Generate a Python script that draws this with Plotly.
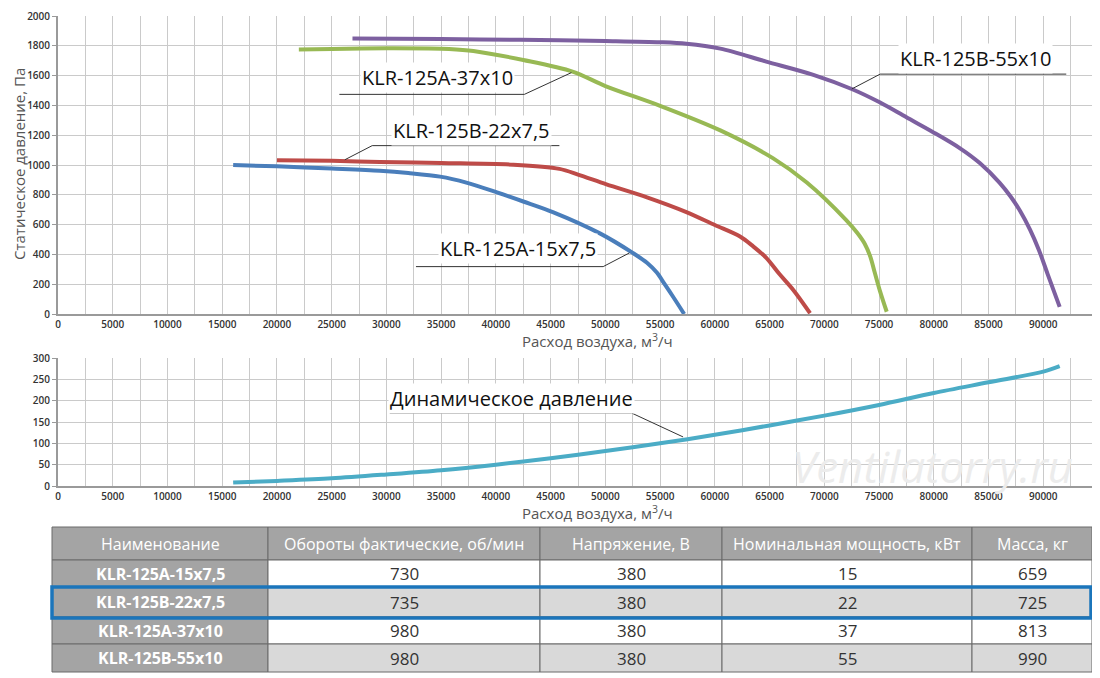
import plotly.graph_objects as go

# Static pressure curves (flow m3/h, pressure Pa)
a15_x = [16000, 20000, 25000, 29400, 32000, 34900, 37300, 40100, 42500, 45200, 49500, 52500, 53800, 54700, 55400, 56200, 57200]
a15_y = [1000, 991, 976, 961, 946, 922, 882, 816, 755, 684, 541, 410, 344, 278, 202, 114, 0]

b22_x = [20000, 25000, 29400, 35000, 41600, 45800, 47500, 50100, 53800, 57400, 60000, 62300, 63500, 64700, 65900, 67200, 68700]
b22_y = [1032, 1028, 1020, 1013, 1002, 974, 936, 870, 783, 684, 597, 520, 454, 377, 268, 158, 5]

a37_x = [22000, 25000, 30000, 35000, 37500, 40000, 42500, 47000, 50000, 55000, 60500, 65300, 68400, 72000, 73000, 73700,
         74200, 74600, 75100, 75700]
a37_y = [1776, 1779, 1783, 1780, 1768, 1740, 1705, 1627, 1530, 1397, 1232, 1046, 882, 630, 545, 470,
         385, 280, 150, 15]

b55_x = [26900, 35000, 42200, 50000, 55000, 57400, 60500, 64700, 69000, 72500, 75100, 77500,
         79900, 82400, 84200, 86000, 87000, 87900, 88800, 89600, 90400, 91500]
b55_y = [1849, 1845, 1840, 1832, 1824, 1814, 1781, 1694, 1605, 1510, 1419, 1320,
         1222, 1112, 1013, 882, 790, 690, 565, 430, 268, 48]

# Dynamic pressure
dyn_x = [16000, 20000, 25000, 30000, 35000, 40000, 45000, 50000, 55000, 60000, 65000, 70000, 75000, 80000, 85000, 90000, 91500]
dyn_y = [8, 12, 18, 27, 37, 50, 65, 82, 100, 120, 142, 165, 190, 218, 243, 268, 281]

# Table
col_names = ["Наименование", "Обороты фактические, об/мин", "Напряжение, В", "Номинальная мощность, кВт", "Масса, кг"]
models = ["KLR-125A-15x7,5", "KLR-125B-22x7,5", "KLR-125A-37x10", "KLR-125B-55x10"]
rpm = [730, 735, 980, 980]
voltage = [380, 380, 380, 380]
power = [15, 22, 37, 55]
mass = [659, 725, 813, 990]
highlight_row = 1

FONT = "Open Sans"
OFF = 8  # page body margin
W, H = 1100 - OFF, 678 - OFF
ML = 42


def px_x(p):
    # page pixel -> paper fraction
    return (p - OFF - ML) / (W - ML)


def px_y(p):
    return 1 - (p - OFF) / H


def note(text, x, y, font, **kw):
    fig.add_annotation(text=text, xref="paper", yref="paper", x=px_x(x), y=px_y(y), showarrow=False,
                       xanchor="center", yanchor="middle", font=font, **kw)


fig = go.Figure()

curves = [
    (a15_x, a15_y, "#4a7ebb"),
    (b22_x, b22_y, "#be4b48"),
    (a37_x, a37_y, "#98b954"),
    (b55_x, b55_y, "#7d60a0"),
]
for cx, cy, col in curves:
    fig.add_trace(go.Scatter(x=cx, y=cy, mode="lines", line=dict(color=col, width=4, shape="spline", smoothing=0.9),
                             showlegend=False, hoverinfo="skip", xaxis="x", yaxis="y"))

fig.add_trace(go.Scatter(x=dyn_x, y=dyn_y, mode="lines", line=dict(color="#4bacc6", width=4, shape="spline", smoothing=0.9),
                         showlegend=False, hoverinfo="skip", xaxis="x2", yaxis="y2"))

grid = "#cacaca"
tickfont = dict(family=FONT, size=10, color="#333", weight=600)
xcommon = dict(range=[0, 95000], dtick=5000, tick0=0, tickformat="d", showgrid=True, gridcolor=grid, gridwidth=1.3,
               minor=dict(dtick=2500, showgrid=True, gridcolor=grid, gridwidth=1.3),
               showline=True, linecolor="#9a9a9a", linewidth=2, zeroline=False, automargin=False,
               tickfont=tickfont, ticks="", fixedrange=True)
ycommon = dict(showgrid=True, gridcolor=grid, gridwidth=1.3, showline=True, linecolor="#9a9a9a", linewidth=2,
               zeroline=False, ticks="outside", ticklen=4, tickcolor="#9a9a9a", automargin=False,
               ticklabeloverflow="allow", tickfont=tickfont, fixedrange=True)

fig.update_layout(
    width=W, height=H,
    margin=dict(l=ML, r=0, t=0, b=0, autoexpand=False),
    paper_bgcolor="white", plot_bgcolor="white",
    xaxis=dict(domain=[px_x(58), px_x(1098)], anchor="y", **xcommon),
    yaxis=dict(domain=[px_y(314), px_y(16)], anchor="x", range=[0, 2000], dtick=200, **ycommon),
    xaxis2=dict(domain=[px_x(58), px_x(1098)], anchor="y2", **xcommon),
    yaxis2=dict(domain=[px_y(486), px_y(358)], anchor="x2", range=[0, 300], dtick=50, **ycommon),
)

# Axis titles
title_font = dict(family=FONT, size=15, color="#555")
note("Статическое давление, Па", 19, 164, title_font, textangle=-90)
for yy in (340, 512):
    note("Расход воздуха, м<sup>3</sup>/ч", 597, yy, title_font)

# Callouts: (label, axis, text pos, leader polyline)
callouts = [
    ("KLR-125A-37x10", "", (34700, 1586), [(25700, 1474), (42600, 1474), (46900, 1620)]),
    ("KLR-125B-22x7,5", "", (37800, 1230), [(45800, 1130), (28700, 1130), (26200, 1035)]),
    ("KLR-125A-15x7,5", "", (42000, 441), [(32700, 318), (49800, 318), (52200, 410)]),
    ("KLR-125B-55x10", "", (83800, 1717), [(92100, 1610), (75100, 1610), (72500, 1510)]),
    ("Динамическое давление", "2", (41400, 206), [(30300, 171), (52400, 171), (57100, 115)]),
]
for label, ax, (tx, ty), pts in callouts:
    for (x0, y0), (x1, y1) in zip(pts[:-1], pts[1:]):
        fig.add_shape(type="line", xref="x" + ax, yref="y" + ax, x0=x0, y0=y0, x1=x1, y1=y1,
                      line=dict(color="#333", width=1))
    fig.add_annotation(text=label, xref="x" + ax, yref="y" + ax, x=tx, y=ty, showarrow=False,
                       xanchor="center", yanchor="middle",
                       bgcolor="white", borderpad=1, font=dict(family=FONT, size=20, color="#111"))

# Watermark
note("Ventilatorry.ru", 932, 466, dict(family=FONT, size=44, color="#ececec", style="italic"))

# Table drawn as cells
col_edges = [52, 268, 540, 722, 972, 1092]
row_edges = [527, 560, 587, 617, 644, 672]
columns = [models, rpm, voltage, power, mass]
for c in range(len(col_names)):
    x0, x1 = col_edges[c], col_edges[c + 1]
    fig.add_shape(type="rect", xref="paper", yref="paper", x0=px_x(x0), x1=px_x(x1),
                  y0=px_y(row_edges[1]), y1=px_y(row_edges[0]), fillcolor="#a4a4a4",
                  line=dict(color="#6a6a6a", width=1), layer="below")
    note(col_names[c], (x0 + x1) / 2, (row_edges[0] + row_edges[1]) / 2,
         dict(family=FONT, size=16, color="white", weight=500))
    for r, val in enumerate(columns[c]):
        if c == 0:
            fill = "#a4a4a4"
            font = dict(family=FONT, size=16, color="white", weight=700)
        else:
            fill = "#d9d9d9" if r % 2 else "#ffffff"
            font = dict(family=FONT, size=17, color="#333")
        fig.add_shape(type="rect", xref="paper", yref="paper", x0=px_x(x0), x1=px_x(x1),
                      y0=px_y(row_edges[r + 2]), y1=px_y(row_edges[r + 1]), fillcolor=fill,
                      line=dict(color="#6a6a6a", width=1), layer="below")
        note(str(val), (x0 + x1) / 2, (row_edges[r + 1] + row_edges[r + 2]) / 2, font)

# Highlighted row
fig.add_shape(type="rect", xref="paper", yref="paper", x0=px_x(52), x1=px_x(1091),
              y0=px_y(row_edges[highlight_row + 2] + 1), y1=px_y(row_edges[highlight_row + 1]),
              line=dict(color="#1b75bb", width=3.5))

fig.write_html("out.html")
